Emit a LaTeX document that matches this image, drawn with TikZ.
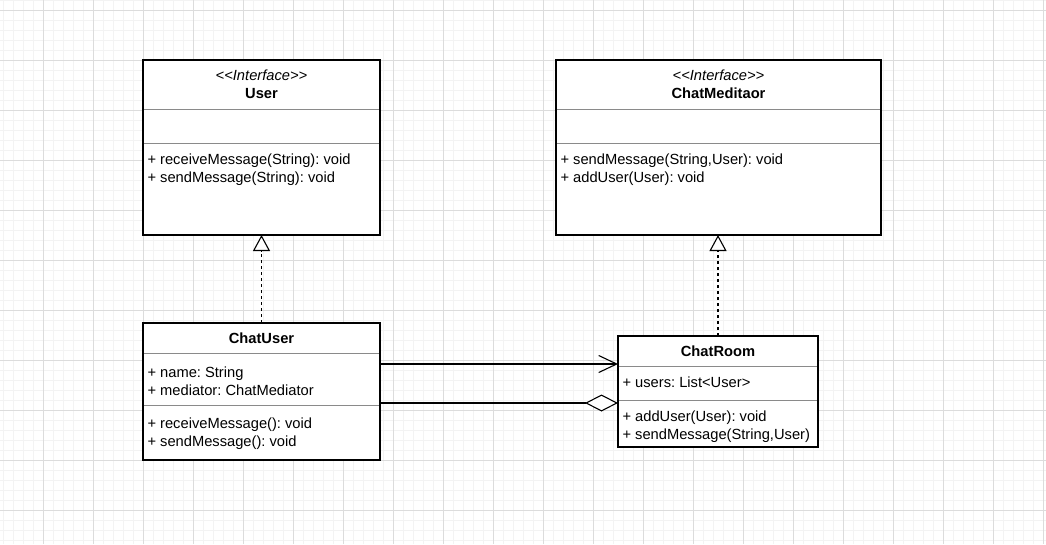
\documentclass[tikz,border=0pt]{standalone}
\usepackage{fontspec}
\setmainfont{Liberation Sans}
\usepackage{tikz}
\usetikzlibrary{calc}
\usetikzlibrary{positioning}
\usetikzlibrary{arrows.meta}

\definecolor{gridmajor}{HTML}{DCDCDC}
\definecolor{gridminor}{HTML}{F3F3F3}
\definecolor{divider}{HTML}{8A8A8A}

\frenchspacing

\begin{document}
\begin{tikzpicture}[x=1pt,y=-1pt,node distance=0 cm,outer sep = 0pt,inner sep = 0pt]

	\tikzstyle{every node}=[font=\fontsize{14.7}{18}\selectfont]

	\tikzset{header/.style={align=center,shape=rectangle,draw=divider,line width=0.8pt,fill=white}}
	\tikzset{part/.style={shape=rectangle,draw=divider,line width=0.8pt,fill=white}}
	\tikzset{members/.style={align=left,anchor=north west}}
	\tikzset{outline/.style={draw=black,line width=1.2pt}}
	\tikzset{realize/.style={dash pattern=on 3pt off 3pt,line width=1.1pt,
		-{Triangle[length=16pt,width=17pt,fill=white]}}}
	\tikzset{assoc/.style={line width=1.1pt,-{Straight Barb[length=18pt,width=17pt]}}}
	\tikzset{aggregate/.style={line width=1.1pt,-{Diamond[length=33pt,width=17pt,fill=white]}}}

	\useasboundingbox (0,0) rectangle (1046,544);
	\fill [white] (0,0) rectangle (1046,544);

	% Background grid, fine lines first.
	\foreach \gx in {3,13,...,1043} \draw [gridminor,line width=0.6pt] (\gx,0) -- (\gx,544);
	\foreach \gy in {0,10,...,540} \draw [gridminor,line width=0.6pt] (0,\gy) -- (1046,\gy);
	\foreach \gx in {43,93,...,1043} \draw [gridmajor,line width=0.8pt] (\gx,0) -- (\gx,544);
	\foreach \gy in {10,60,...,510} \draw [gridmajor,line width=0.8pt] (0,\gy) -- (1046,\gy);

	% Interface User.
	\node (user) [header,minimum width=237pt,minimum height=49pt,anchor=north west] at (143,60)
		{\textit{<{}<Interface>{}>}\\\textbf{User}};
	\node (userattr) [part,minimum width=237pt,minimum height=34pt,below=of user] {};
	\node (userops) [part,minimum width=237pt,minimum height=92pt,below=of userattr] {};
	\node (useropstext) [members,below right=11pt and 4.5pt of userops.north west]
		{+ receiveMessage(String): void\\+ sendMessage(String): void};
	\draw [outline] (user.north west) rectangle (userops.south east);

	% Interface ChatMeditaor.
	\node (mediator) [header,minimum width=325pt,minimum height=49pt,anchor=north west] at (556,60)
		{\textit{<{}<Interface>{}>}\\\textbf{ChatMeditaor}};
	\node (medattr) [part,minimum width=325pt,minimum height=34pt,below=of mediator] {};
	\node (medops) [part,minimum width=325pt,minimum height=92pt,below=of medattr] {};
	\node (medopstext) [members,below right=11pt and 4.5pt of medops.north west]
		{+ sendMessage(String,User): void\\+ addUser(User): void};
	\draw [outline] (mediator.north west) rectangle (medops.south east);

	% Class ChatUser.
	\node (chatuser) [header,minimum width=237pt,minimum height=30pt,anchor=north west] at (143,323)
		{\textbf{ChatUser}};
	\node (chatuserattr) [part,minimum width=237pt,minimum height=52pt,below=of chatuser] {};
	\node (chatuserops) [part,minimum width=237pt,minimum height=55pt,below=of chatuserattr] {};
	\node (chatuserattrtext) [members,below right=14pt and 4.5pt of chatuserattr.north west]
		{+ name: String\\+ mediator: ChatMediator};
	\node (chatuseropstext) [members,below right=13pt and 4.5pt of chatuserops.north west]
		{+ receiveMessage(): void\\+ sendMessage(): void};
	\draw [outline] (chatuser.north west) rectangle (chatuserops.south east);

	% Class ChatRoom.
	\node (chatroom) [header,minimum width=200pt,minimum height=30pt,anchor=north west] at (618,336)
		{\textbf{ChatRoom}};
	\node (chatroomattr) [part,minimum width=200pt,minimum height=34pt,below=of chatroom] {};
	\node (chatroomops) [part,minimum width=200pt,minimum height=47pt,below=of chatroomattr] {};
	\node (chatroomattrtext) [members,below right=11pt and 4.5pt of chatroomattr.north west]
		{+ users: List<User>};
	\node (chatroomopstext) [members,below right=11pt and 4.5pt of chatroomops.north west]
		{+ addUser(User): void\\+ sendMessage(String,User)};
	\draw [outline] (chatroom.north west) rectangle (chatroomops.south east);

	% Realizations of the two interfaces.
	\draw [realize] (chatuser.north) -- (userops.south);
	\draw [realize] (chatroom.north) -- (chatroom.north |- medops.south);

	% Association and aggregation between ChatUser and ChatRoom.
	\coordinate (assocpoint) at ($(chatuserattr.north east)+(0,11)$);
	\draw [assoc] (assocpoint) -- (assocpoint -| chatroom.west);
	\coordinate (aggpoint) at ($(chatroomops.north west)+(0,3)$);
	\draw [aggregate] (aggpoint -| chatuser.east) -- (aggpoint);
\end{tikzpicture}
\end{document}
